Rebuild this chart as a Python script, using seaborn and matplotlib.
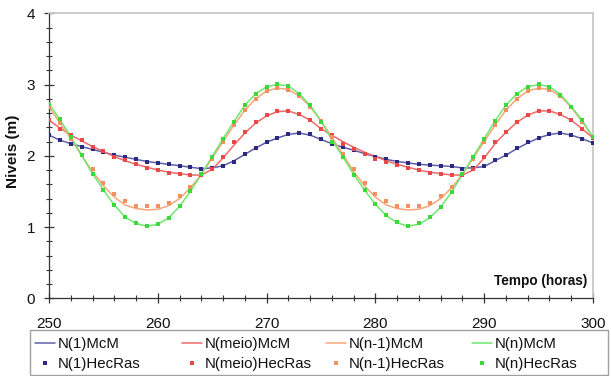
import numpy as np
import pandas as pd
import matplotlib
matplotlib.use("Agg")
import matplotlib.pyplot as plt
from matplotlib.ticker import MultipleLocator
from matplotlib.lines import Line2D
from matplotlib.patches import Rectangle
import seaborn as sns

hours = list(range(250, 301))

n1_mcm = [2.29, 2.22, 2.17, 2.13, 2.09, 2.05, 2.01, 1.98, 1.95, 1.92,
          1.90, 1.88, 1.86, 1.84, 1.82, 1.83, 1.86, 1.93, 2.02, 2.11,
          2.19, 2.25, 2.30, 2.32, 2.29, 2.23, 2.17, 2.12, 2.08, 2.03,
          1.99, 1.95, 1.92, 1.90, 1.88, 1.87, 1.86, 1.85, 1.83, 1.83,
          1.85, 1.93, 2.01, 2.10, 2.18, 2.25, 2.30, 2.32, 2.29, 2.24,
          2.18]
n1_hec = [2.29, 2.22, 2.17, 2.13, 2.09, 2.05, 2.01, 1.98, 1.95, 1.92,
          1.90, 1.88, 1.86, 1.84, 1.82, 1.83, 1.85, 1.91, 2.02, 2.11,
          2.19, 2.25, 2.30, 2.32, 2.30, 2.23, 2.17, 2.12, 2.08, 2.03,
          1.99, 1.95, 1.92, 1.90, 1.88, 1.87, 1.86, 1.85, 1.82, 1.83,
          1.85, 1.94, 2.01, 2.11, 2.19, 2.25, 2.31, 2.32, 2.29, 2.24,
          2.18]
meio_mcm = [2.50, 2.39, 2.29, 2.21, 2.13, 2.06, 1.99, 1.93, 1.88, 1.84,
            1.80, 1.77, 1.75, 1.73, 1.73, 1.81, 1.97, 2.15, 2.32, 2.46,
            2.56, 2.62, 2.63, 2.58, 2.50, 2.38, 2.29, 2.20, 2.12, 2.05,
            1.99, 1.93, 1.88, 1.84, 1.80, 1.77, 1.75, 1.73, 1.73, 1.80,
            1.97, 2.17, 2.33, 2.47, 2.57, 2.63, 2.63, 2.58, 2.50, 2.38,
            2.25]
meio_hec = [2.50, 2.38, 2.29, 2.22, 2.13, 2.07, 1.98, 1.94, 1.88, 1.83,
            1.80, 1.76, 1.74, 1.73, 1.73, 1.82, 1.98, 2.19, 2.34, 2.47,
            2.57, 2.63, 2.63, 2.58, 2.50, 2.38, 2.29, 2.17, 2.09, 2.02,
            1.96, 1.92, 1.87, 1.83, 1.80, 1.76, 1.75, 1.73, 1.73, 1.82,
            1.98, 2.19, 2.34, 2.47, 2.57, 2.63, 2.63, 2.58, 2.50, 2.38,
            2.25]
nm1_mcm = [2.69, 2.46, 2.24, 2.00, 1.78, 1.58, 1.42, 1.31, 1.26, 1.24,
           1.25, 1.30, 1.40, 1.55, 1.74, 1.97, 2.20, 2.43, 2.64, 2.80,
           2.91, 2.95, 2.93, 2.84, 2.69, 2.49, 2.26, 2.02, 1.78, 1.58,
           1.42, 1.31, 1.26, 1.24, 1.25, 1.30, 1.40, 1.55, 1.74, 1.97,
           2.20, 2.43, 2.64, 2.80, 2.91, 2.95, 2.93, 2.84, 2.68, 2.48,
           2.26]
nm1_hec = [2.69, 2.46, 2.24, 2.01, 1.82, 1.62, 1.46, 1.36, 1.30, 1.30,
           1.30, 1.34, 1.43, 1.56, 1.74, 1.96, 2.20, 2.43, 2.64, 2.80,
           2.91, 2.95, 2.93, 2.84, 2.69, 2.49, 2.27, 2.03, 1.82, 1.62,
           1.46, 1.36, 1.30, 1.30, 1.30, 1.34, 1.43, 1.56, 1.74, 1.96,
           2.20, 2.43, 2.64, 2.80, 2.91, 2.95, 2.93, 2.84, 2.68, 2.48,
           2.26]
nn_mcm = [2.73, 2.51, 2.27, 2.01, 1.75, 1.52, 1.31, 1.14, 1.05, 1.01,
          1.04, 1.13, 1.29, 1.50, 1.74, 1.99, 2.24, 2.48, 2.71, 2.87,
          2.97, 3.00, 2.98, 2.87, 2.71, 2.49, 2.22, 1.99, 1.74, 1.52,
          1.32, 1.16, 1.06, 1.01, 1.04, 1.13, 1.28, 1.49, 1.74, 1.99,
          2.24, 2.49, 2.71, 2.87, 2.97, 3.00, 2.97, 2.86, 2.69, 2.50,
          2.26]
nn_hec = [2.73, 2.51, 2.27, 2.01, 1.75, 1.52, 1.31, 1.14, 1.05, 1.01,
          1.04, 1.13, 1.30, 1.51, 1.75, 1.98, 2.24, 2.48, 2.71, 2.87,
          2.97, 3.01, 2.98, 2.87, 2.71, 2.47, 2.20, 1.99, 1.73, 1.52,
          1.33, 1.17, 1.07, 1.01, 1.05, 1.14, 1.28, 1.49, 1.75, 1.99,
          2.24, 2.49, 2.72, 2.87, 2.97, 3.01, 2.97, 2.86, 2.69, 2.50,
          2.26]

x_ticks = [250, 260, 270, 280, 290, 300]
y_ticks = [0, 1, 2, 3, 4]

names = ["N(1)", "N(meio)", "N(n-1)", "N(n)"]
line_colors = ["#6060aa", "#f06a6a", "#f7a67a", "#6ee86e"]
mark_colors = ["#2a2a80", "#e84848", "#f39060", "#3cd83c"]

sns.set_theme(style="white")
plt.rcParams["font.family"] = ["Liberation Sans", "DejaVu Sans"]

W, H = 611, 376
fig = plt.figure(figsize=(W / 100, H / 100), dpi=100)
ax = fig.add_axes([49 / W, 1 - 298.3 / H, (593 - 49) / W, (298.3 - 13.3) / H])

mcm = [n1_mcm, meio_mcm, nm1_mcm, nn_mcm]
hec = [n1_hec, meio_hec, nm1_hec, nn_hec]
for name, lc, mc, ym, yh in zip(names, line_colors, mark_colors, mcm, hec):
    df = pd.DataFrame({"t": hours, "m": ym, "h": yh})
    sns.lineplot(data=df, x="t", y="m", ax=ax, color=lc, lw=1.1, legend=False)
    sns.scatterplot(data=df, x="t", y="h", ax=ax, color=mc, marker="s", s=7,
                    linewidth=0, legend=False, zorder=3)

ax.set_xlim(250, 300)
ax.set_ylim(0, 4)
ax.set_xticks(x_ticks)
ax.set_yticks(y_ticks)
ax.xaxis.set_minor_locator(MultipleLocator(2))
ax.yaxis.set_minor_locator(MultipleLocator(0.2))
ax.tick_params(axis="both", which="major", direction="inout", length=7, width=0.9,
               color="#333333", labelsize=11, labelcolor="#111111")
ax.tick_params(axis="x", which="major", pad=10)
ax.tick_params(axis="y", which="major", pad=6.5)
ax.tick_params(axis="both", which="minor", direction="inout", length=4, width=0.8,
               color="#333333")
ax.tick_params(axis="x", which="both", bottom=True)
ax.tick_params(axis="y", which="both", left=True)

for s in ["top", "right"]:
    ax.spines[s].set_color("#c8c8c8")
    ax.spines[s].set_linewidth(1.3)
for s in ["left", "bottom"]:
    ax.spines[s].set_color("#333333")
    ax.spines[s].set_linewidth(0.9)

ax.set_xlabel("")
ax.set_ylabel("Niveis (m)", fontsize=11, fontweight="bold", color="#111111")
ax.yaxis.set_label_coords(-0.053, 0.515)
ax.text(0.989, 0.035, "Tempo (horas)", transform=ax.transAxes, ha="right",
        va="bottom", fontsize=9.8, fontweight="bold", color="#111111")

# legend: frame plus four equal-width columns
fig.patches.append(Rectangle((30 / W, 1 - 375 / H), 578 / W, 45 / H,
                             transform=fig.transFigure, fill=False,
                             edgecolor="#a0a0a0", linewidth=1.0))
col_x = [35, 182, 326, 472]
for name, lc, mc, cx in zip(names, line_colors, mark_colors, col_x):
    hs = [Line2D([], [], color=lc, lw=1.1),
          Line2D([], [], color=mc, marker="s", ls="none", markersize=2.6, mew=0)]
    lg = fig.legend(hs, [name + "McM", name + "HecRas"], loc="upper left",
                    bbox_to_anchor=(cx / W, 1 - 337 / H), frameon=False,
                    fontsize=10.8, handlelength=1.35, handletextpad=0.15,
                    borderpad=0, borderaxespad=0, labelspacing=0.42)
    for t in lg.get_texts():
        t.set_color("#111111")

fig.savefig("out.png", dpi=100)
